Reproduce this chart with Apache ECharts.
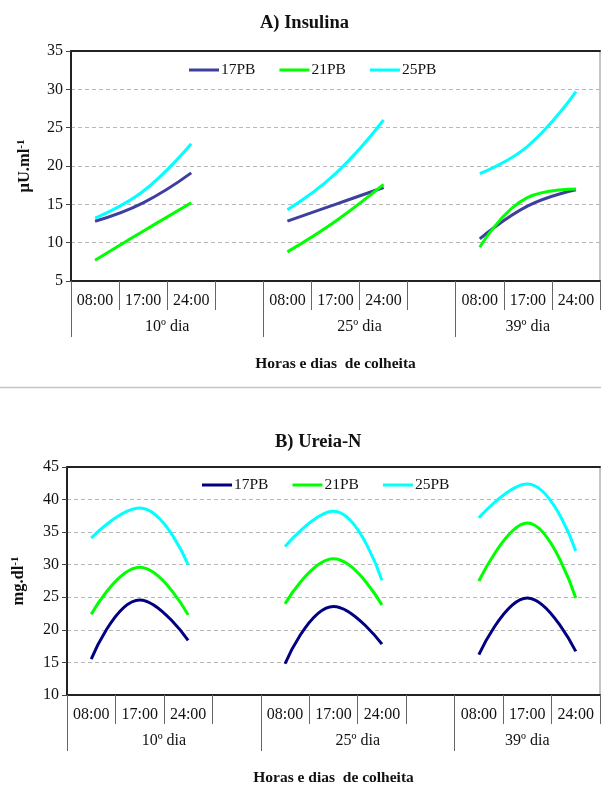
<!DOCTYPE html>
<html>
<head>
<meta charset="utf-8">
<script src="https://cdn.jsdelivr.net/npm/echarts@6/dist/echarts.min.js"></script>
<style>
html,body{margin:0;padding:0;background:#fff;}
#c{width:601px;height:787px;}
</style>
</head>
<body>
<div id="c"></div>
<script>
// ---- data ----
const hours = ['08:00','17:00','24:00','','08:00','17:00','24:00','','08:00','17:00','24:00'];
const groups = ['10º dia','25º dia','39º dia'];
const groupCenters = [2, 6, 9.5];
const groupBounds = [0, 4, 8];
const seriesNames = ['17PB','21PB','25PB'];

// A) Insulina (µU/ml)
const insulina17 = [12.8, 15.2, 19.1, null, 12.8, 15.0, 17.2, null, 10.5, 14.8, 16.9];
const insulina21 = [7.7, 11.5, 15.2, null, 8.8, 12.8, 17.6, null, 9.4, 15.9, 17.0];
const insulina25 = [13.2, 16.7, 22.9, null, 14.3, 19.0, 26.0, null, 19.0, 22.6, 29.7];

// B) Ureia-N (mg/dl)
const ureia17 = [15.5, 24.6, 18.4, null, 14.8, 23.6, 17.8, null, 16.2, 24.9, 16.7];
const ureia21 = [22.4, 29.6, 22.3, null, 24.0, 30.9, 23.8, null, 27.5, 36.4, 24.9];
const ureia25 = [34.1, 38.7, 30.0, null, 32.8, 38.2, 27.6, null, 37.2, 42.4, 32.1];

const colorsA = ['#3f3f9d', '#00ff00', '#00ffff'];
const colorsB = ['#000080', '#00ff00', '#00ffff'];

const FONT = '"Liberation Serif", "Times New Roman", serif';

function hourAxis(gi) {
  return {
    type: 'category', gridIndex: gi, data: hours, boundaryGap: true, position: 'bottom',
    axisLine: {show: true, lineStyle: {color: '#222', width: 2}},
    axisTick: {show: true, interval: 0, length: 29, lineStyle: {color: '#666', width: 1}},
    axisLabel: {interval: 0, margin: 12, fontFamily: FONT, fontSize: 16, color: '#111'},
    splitLine: {show: false}
  };
}
function groupAxis(gi, gap) {
  return {
    type: 'value', gridIndex: gi, min: 0, max: 11, position: 'bottom',
    axisLine: {show: false},
    axisTick: {show: true, customValues: groupBounds, length: 56, lineStyle: {color: '#666', width: 1}},
    axisLabel: {show: true, customValues: groupCenters, margin: 38, fontFamily: FONT, fontSize: 16, color: '#111',
      formatter: function (v) { const i = groupCenters.indexOf(v); return i >= 0 ? groups[i] : ''; }},
    splitLine: {show: false},
    name: 'Horas e dias  de colheita', nameLocation: 'middle', nameGap: gap,
    nameTextStyle: {fontFamily: FONT, fontSize: 15.5, fontWeight: 'bold', color: '#111'}
  };
}
function topAxis(gi) {
  return {
    type: 'value', gridIndex: gi, min: 0, max: 11, position: 'top',
    axisLine: {show: true, lineStyle: {color: '#222', width: 2}},
    axisTick: {show: false}, axisLabel: {show: false}, splitLine: {show: false}
  };
}
function yAxis(gi, min, max, nm, gap) {
  return {
    type: 'value', gridIndex: gi, min: min, max: max, interval: 5,
    axisLine: {show: true, lineStyle: {color: '#222', width: 2}},
    axisTick: {show: true, inside: false, length: 5, lineStyle: {color: '#444'}},
    axisLabel: {fontFamily: FONT, fontSize: 16, color: '#111', margin: 8},
    splitLine: {show: true, lineStyle: {color: '#b8b8b8', type: [4, 3], width: 1}},
    name: nm, nameLocation: 'middle', nameRotate: 90, nameGap: gap,
    nameTextStyle: {
      rich: {
        a: {fontFamily: FONT, fontSize: 16.5, fontWeight: 'bold', color: '#111'},
        s: {fontFamily: FONT, fontSize: 11, fontWeight: 'bold', color: '#111', verticalAlign: 'top', padding: [0, 0, 6, 0]}
      }
    }
  };
}
function lineSeries(name, data, color, xi, yi) {
  return {
    type: 'line', name: name, data: data, xAxisIndex: xi, yAxisIndex: yi,
    smooth: 0.45, symbol: 'none', connectNulls: false,
    lineStyle: {color: color, width: 3}, itemStyle: {color: color}
  };
}

const chart = echarts.init(document.getElementById('c'), null, {renderer: 'canvas'});
const option = {
  backgroundColor: '#fff',
  animation: false,
  title: [
    {text: 'A) Insulina', left: 255, top: 9, textStyle: {fontFamily: FONT, fontSize: 18.5, fontWeight: 'bold', color: '#111'}},
    {text: 'B) Ureia-N', left: 270, top: 428, textStyle: {fontFamily: FONT, fontSize: 18.5, fontWeight: 'bold', color: '#111'}}
  ],
  legend: [
    {data: seriesNames.map(n => ({name: n})), left: 184, top: 57, itemWidth: 30, itemHeight: 3, itemGap: 24,
      icon: 'rect', orient: 'horizontal',
      textStyle: {fontFamily: FONT, fontSize: 15.5, color: '#111', padding: [0, 0, 0, -3]},
      formatter: n => n, selectedMode: false}
  ],
  grid: [
    {left: 71, top: 51, right: 1, bottom: 506, show: true, borderColor: '#8a8a8a', borderWidth: 1, containLabel: false},
    {left: 67, top: 467, right: 1, bottom: 91, show: true, borderColor: '#8a8a8a', borderWidth: 1, containLabel: false}
  ],
  xAxis: [hourAxis(0), groupAxis(0, 75), topAxis(0), hourAxis(1), groupAxis(1, 75), topAxis(1)],
  yAxis: [
    yAxis(0, 5, 35, '{a|μU.ml}{s|-1}', 38),
    yAxis(1, 10, 45, '{a|mg.dl}{s|-1}', 40)
  ],
  graphic: [
    {type: 'line', shape: {x1: 0, y1: 387.5, x2: 601, y2: 387.5}, style: {stroke: '#c4c4c4', lineWidth: 1.5}, silent: true}
  ],
  series: [
    lineSeries('17PB', insulina17, colorsA[0], 0, 0),
    lineSeries('21PB', insulina21, colorsA[1], 0, 0),
    lineSeries('25PB', insulina25, colorsA[2], 0, 0),
    lineSeries('17PB ', ureia17, colorsB[0], 3, 1),
    lineSeries('21PB ', ureia21, colorsB[1], 3, 1),
    lineSeries('25PB ', ureia25, colorsB[2], 3, 1)
  ]
};
option.legend.push({
  data: ['17PB ', '21PB ', '25PB '].map(n => ({name: n})), left: 197, top: 472, itemWidth: 30, itemHeight: 3, itemGap: 24,
  icon: 'rect', textStyle: {fontFamily: FONT, fontSize: 15.5, color: '#111', padding: [0, 0, 0, -3]},
  formatter: n => n.trim(), selectedMode: false
});
chart.setOption(option);
</script>
</body>
</html>
